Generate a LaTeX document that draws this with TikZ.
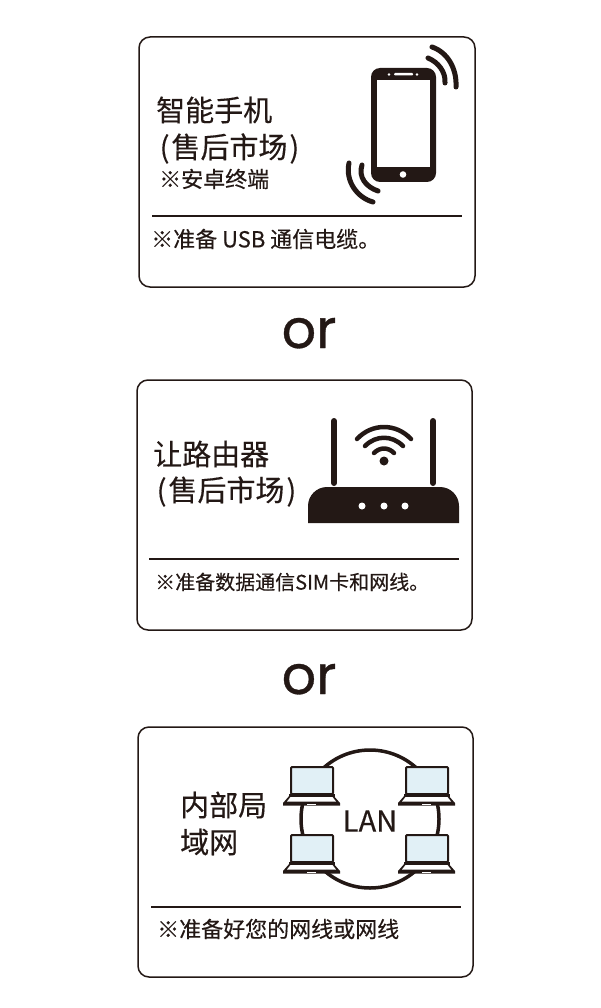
\documentclass[tikz,border=0pt]{standalone}
\usepackage{fontspec}
\usetikzlibrary{calc}
\setmainfont{Noto Sans CJK SC}[FakeBold=0.35]
\newfontfamily\orfont{Poppins}[FakeBold=0.6]
\definecolor{ink}{HTML}{231815}
\definecolor{lcd}{HTML}{E1F0F6}

\begin{document}
\begin{tikzpicture}[x=1pt,y=-1pt,line join=round,
	panel/.style={draw=ink,line width=1.5pt,rounded corners=11pt},
	rulerline/.style={draw=ink,line width=1.5pt},
	title/.style={text=ink,font=\fontsize{29}{29}\selectfont,inner sep=0pt,anchor=west},
	note/.style={text=ink,font=\fontsize{22}{22}\selectfont,inner sep=0pt,anchor=west},
	wave/.style={draw=ink,line width=5pt,line cap=round},
	wordor/.style={text=ink,font=\orfont\fontsize{54}{54}\selectfont,inner sep=0pt,anchor=base}]
	\useasboundingbox (0,0) rectangle (600,1008);
	\newcommand{\laptop}[1]{ %ノートPC
		\begin{scope}[shift={#1}]
			\filldraw[draw=ink,fill=lcd,line width=2pt,rounded corners=1pt] (8,1) rectangle (50,28);
			\fill[ink] (6,28) rectangle (52,31);
			\fill[ink] (7,29) -- (0,37) -- (0,39.5) -- (57,39.5) -- (57,37) -- (50,29) -- cycle;
			\fill[white] (7.5,31) -- (4,35.5) -- (53,35.5) -- (49.5,31) -- cycle;
			\fill[white] (24,37.5) rectangle (33,38.5);
		\end{scope}
	}
	%panels
	\draw[panel] (139,37) rectangle (475,287);
	\draw[panel] (137,380) rectangle (472,630);
	\draw[panel] (138,727) rectangle (473,977);
	\draw[rulerline] (152,216) -- (462,216);
	\draw[rulerline] (149,559) -- (459,559);
	\draw[rulerline] (151,907) -- (461,907);
	%phone
	\fill[ink,rounded corners=9pt] (371,68) rectangle (436,182);
	\fill[white] (377,80) rectangle (430,167);
	\fill[white,rounded corners=1pt] (394,73) rectangle (413,75.5);
	\fill[white] (389,74.5) circle (1.3);
	\fill[white] (417,74.5) circle (1.3);
	\fill[white] (403,174.5) circle (3.3);
	\draw[wave] (432,47) .. controls (447,52) and (457,68) .. (456,87);
	\draw[wave] (428,58) .. controls (438,62) and (446,72) .. (445,83);
	\draw[wave] (349,163) .. controls (345,182) and (358,198) .. (373,202);
	\draw[wave] (362,165) .. controls (358,177) and (366,187) .. (378,191);
	%router
	\draw[ink,line width=6pt,line cap=round] (334,421) -- (334,483);
	\draw[ink,line width=6pt,line cap=round] (433,421) -- (433,483);
	\fill[ink] (308,523) {[rounded corners=19pt] -- (308,487) -- (459,487)} -- (459,523) -- cycle;
	\foreach \x in {362,384,405}{
		\fill[white] (\x,506) circle (3.5);
	}
	\fill[ink] (384,461) circle (4.5);
	\draw[wave,line width=4.5pt] (357,439) .. controls (372,423) and (396,423) .. (411,439);
	\draw[wave,line width=4.5pt] (365,446) .. controls (376,435) and (392,435) .. (403,446);
	\draw[wave,line width=4.5pt] (374,453) .. controls (380,447) and (388,447) .. (394,453);
	%LAN
	\draw[ink,line width=3.5pt] (370,819) circle (69);
	\foreach \x/\y in {283/766,398/766,283/834,398/834}{
		\fill[white] (\x+3,\y+2) rectangle (\x+54,\y+38);
		\laptop{(\x,\y)}
	}
	%texts
	\node[title] (phonea) at (156,110) {智能手机};
	\node[title] (phoneb) at (159.5,148.5) {(\kern2pt售后市场\kern2pt)};
	\node[note] (phonec) at (159,179) {※安卓终端};
	\node[note] (phoned) at (151,239) {※准备 USB 通信电缆。};
	\node[title] (routera) at (153,454) {让路由器};
	\node[title] (routerb) at (156.5,491.5) {(\kern2pt售后市场\kern2pt)};
	\node[note,font=\fontsize{20}{20}\selectfont] (routerc) at (155,582) {※准备数据通信SIM卡和网线。};
	\node[title] (lana) at (180,805) {内部局};
	\node[title] (lanb) at (180,842) {域网};
	\node[note] (lanc) at (157,929) {※准备好您的网线或网线};
	\node[text=ink,font=\fontsize{29}{29}\selectfont,inner sep=0pt] (lanname) at (370,821) {LAN};
	\node[wordor] (ora) at (309,348) {or};
	\node[wordor] (orb) at (309,694) {or};
\end{tikzpicture}
\end{document}
